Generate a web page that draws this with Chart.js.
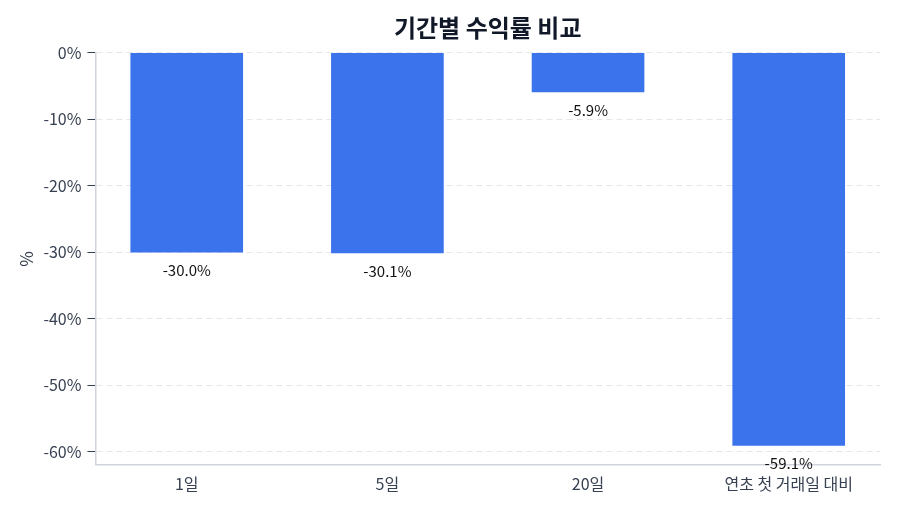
<!DOCTYPE html>
<html><head><meta charset="utf-8">
<script src="https://cdn.jsdelivr.net/npm/chart.js@4/dist/chart.umd.min.js"></script>
<style>html,body{margin:0;padding:0;background:#fff}#wrap{width:900px;height:514px}</style>
</head><body><div id="wrap"><canvas id="c" width="900" height="514"></canvas></div>
<script>
const categories = ['1일', '5일', '20일', '연초 첫 거래일 대비'];
const returns = [-30.0, -30.1, -5.9, -59.1];
const yTicks = [0, -10, -20, -30, -40, -50, -60];

const FONT = "'Noto Sans CJK KR', 'Noto Sans', sans-serif";
const valueLabels = {
  id: 'valueLabels',
  afterDatasetsDraw(chart) {
    const ctx = chart.ctx;
    const meta = chart.getDatasetMeta(0);
    ctx.save();
    ctx.font = '15px ' + FONT;
    ctx.fillStyle = '#111111';
    ctx.textAlign = 'center';
    ctx.textBaseline = 'middle';
    meta.data.forEach((bar, i) => {
      ctx.fillText(returns[i].toFixed(1) + '%', bar.x, bar.y + 18);
    });
    ctx.restore();
  }
};

new Chart(document.getElementById('c'), {
  type: 'bar',
  data: {
    datasets: [{
      data: returns.map((v, i) => ({ x: i, y: v })),
      backgroundColor: '#3B73ED',
      borderWidth: 0,
      barThickness: 112
    }]
  },
  options: {
    responsive: false,
    animation: false,
    layout: { padding: { left: 3, right: 20, top: 0, bottom: 16 } },
    plugins: {
      legend: { display: false },
      tooltip: { enabled: false },
      title: {
        display: true,
        fullSize: false,
        text: '기간별 수익률 비교',
        color: '#111827',
        font: { family: FONT, size: 24, weight: 'bold' },
        padding: { top: 13, bottom: 11 }
      }
    },
    scales: {
      x: {
        type: 'linear',
        min: -0.455,
        max: 3.455,
        offset: false,
        afterBuildTicks(axis) { axis.ticks = categories.map((c, i) => ({ value: i })); },
        grid: { display: false, drawTicks: true, tickLength: 6, tickColor: '#374151' },
        border: { display: true, color: '#cfd4dc', width: 1.5 },
        ticks: {
          color: '#374151', font: { family: FONT, size: 16 }, padding: 4,
          autoSkip: false, maxRotation: 0,
          callback: v => categories[v]
        }
      },
      y: {
        min: -62,
        max: 0,
        afterBuildTicks(axis) { axis.ticks = yTicks.map(v => ({ value: v })); },
        grid: {
          color: '#e5e7eb',
          tickColor: '#374151',
          tickLength: 8,
          drawTicks: true
        },
        border: { display: true, color: '#cfd4dc', width: 1.5, dash: [6, 4] },
        ticks: {
          color: '#374151',
          font: { family: FONT, size: 16 },
          padding: 6,
          callback: v => v + '%'
        },
        title: {
          display: true,
          text: '%',
          color: '#374151',
          font: { family: FONT, size: 17 },
          padding: { top: 13, bottom: 1 }
        }
      }
    }
  },
  plugins: [valueLabels]
});
</script></body></html>
